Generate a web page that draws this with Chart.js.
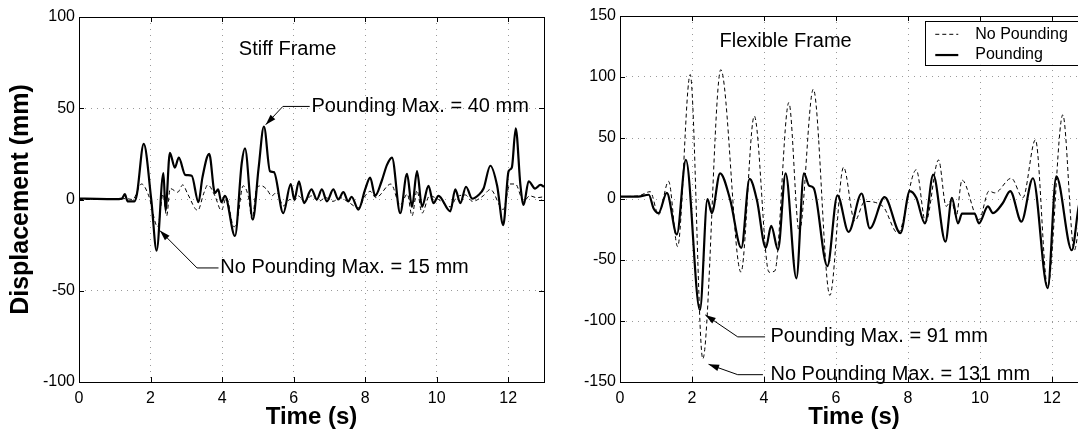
<!DOCTYPE html>
<html>
<head>
<meta charset="utf-8">
<script src="https://cdn.jsdelivr.net/npm/chart.js@4.4.0/dist/chart.umd.min.js"></script>
<style>
html, body { margin: 0; padding: 0; background: #fff; overflow: hidden; }
#wrap { position: relative; width: 1078px; height: 433px; overflow: hidden; }
#stiff { position: absolute; left: 0; top: 0; }
#flex { position: absolute; left: 550px; top: 0; }
</style>
</head>
<body>
<div id="wrap">
  <canvas id="stiff" width="550" height="433"></canvas>
  <canvas id="flex" width="542" height="433"></canvas>
</div>
<script>
// tick labels
const xTicks = [0, 2, 4, 6, 8, 10, 12];
const stiffYTicks = [-100, -50, 0, 50, 100];
const flexYTicks = [-150, -100, -50, 0, 50, 100, 150];

// Stiff frame, pounding (s, mm)
const stiffPoundT = [0, 0.5, 1.0, 1.2, 1.28, 1.36, 1.55, 1.62, 1.81, 2.02, 2.17, 2.36, 2.42, 2.54, 2.68, 2.79, 2.97, 3.15, 3.34, 3.45,
  3.64, 3.80, 3.89, 3.98, 4.08, 4.36, 4.55, 4.64, 4.86, 5.02, 5.17, 5.34, 5.45, 5.71, 5.92, 6.02, 6.15, 6.29, 6.50, 6.65,
  6.79, 6.93, 7.11, 7.25, 7.39, 7.53, 7.62, 7.81, 8.0, 8.14, 8.28, 8.46, 8.61, 8.75, 8.98, 9.17, 9.31, 9.45, 9.59, 9.77,
  9.91, 10.05, 10.38, 10.52, 10.66, 10.82, 10.99, 11.17, 11.31, 11.5, 11.69, 11.86, 12.01, 12.1, 12.21, 12.34, 12.43, 12.57, 12.75, 12.9, 13];
const stiffPoundV = [0.5, 0.3, 0.2, 0.5, 3, -1, -1, 3, 30.5, 0, -28, 14.5, -6, 25.5, 17.5, 23, 13.5, 13, -1.5, 12,
  25, 3.5, 5.5, -1.5, 2, -20, 20, 28, -11, 17, 40, 15.5, 15, -7.5, 8.5, 0, 10, -2, 5.5, 0,
  5.5, -1, 5.5, 0, 4, -1, 1.5, -5.5, 5.5, 12, 2, 10, 19, 23, -7.5, 14, -4, 15.5, -4, 7.5,
  -2, 2, -6.5, 5.5, -2, 7, 0.5, 2.5, 6, 18.5, 7.5, -14, 15.5, 17.5, 39, 8, -3, 10, 6, 8, 7];

// Stiff frame, no pounding
const stiffFreeT = [0, 1.0, 1.3, 1.5, 1.75, 1.95, 2.2, 2.35, 2.45, 2.55, 2.76, 2.9, 3.04, 3.32, 3.49, 3.6, 3.8, 3.98, 4.12, 4.33,
  4.42, 4.59, 4.73, 4.84, 4.97, 5.1, 5.25, 5.39, 5.53, 5.71, 5.9, 6.0, 6.13, 6.3, 6.5, 6.7, 6.9, 7.1, 7.3, 7.5,
  7.81, 8.0, 8.14, 8.3, 8.72, 8.98, 9.18, 9.31, 9.45, 9.59, 9.8, 10.05, 10.38, 10.55, 10.8, 11.0, 11.3, 11.5, 11.86, 12.05,
  12.2, 12.43, 12.6, 12.8, 13];
const stiffFreeV = [0, 0, 0.5, 0, 8.5, 2, -15, 3, -9, 6, 4, 8, 3, -6, 3.5, 8, 2, -6, 1, -15,
  -12, 7.5, 2, -11, 6.5, 7.5, 5.5, 2, 4, -3.5, 0, -1, 2, -1, 2, -1, 1, -1, 1, -1,
  -4.5, 2, 4.5, 1, 8.5, -3, 3, -9, 5, -7.5, 2, 0, -4, 1, 2.5, -1, 2, 5.5, -5.5, 8.5,
  8.5, -1, 2, 1, 1.5];

// Flexible frame, pounding
const flexPoundT = [0, 0.5, 0.8, 0.93, 1.07, 1.3, 1.58, 1.83, 2.22, 2.43, 2.55, 2.78, 3.06, 3.37, 3.6, 3.8, 4.05, 4.2, 4.39, 4.6,
  4.9, 5.11, 5.25, 5.38, 5.76, 6.04, 6.35, 6.71, 6.94, 7.35, 7.79, 8.05, 8.23, 8.47, 8.7, 9.04, 9.22, 9.39, 9.5, 9.85,
  9.97, 10.22, 10.36, 10.63, 10.84, 11.15, 11.47, 11.88, 12.12, 12.55, 12.75, 13];
const flexPoundV = [2, 2, 3.5, -7.5, -11.5, 5, -29, 32, -91, 0, -11.5, 21, -0.5, -40, 16.5, -0.5, -40, -22, -41.5, 21,
  -65, 21, 11, 9, -55, 3, -27, 4.5, -24, 1.5, -28, 6.5, 1, -20, 20, -35, 1, -20, -12, -12,
  -20, -6, -11.5, -3.5, 6.5, -18.5, 17, -73, 18.5, -42, -5, 10];

// Flexible frame, no pounding
const flexFreeT = [0, 0.5, 0.84, 1.07, 1.35, 1.6, 1.95, 2.3, 2.8, 3.36, 3.73, 4.14, 4.3, 4.69, 4.98, 5.37, 5.83, 6.21, 6.52, 6.8,
  7.3, 7.72, 8.23, 8.49, 8.85, 9.06, 9.2, 9.34, 9.5, 9.97, 10.25, 10.41, 10.87, 11.19, 11.54, 11.88, 12.3, 12.62, 12.8, 13];
const flexFreeV = [2, 2.5, 6, -13, 14.5, -39, 102, -131, 106, -60, 68, -60, -59, 79, -27, 90, -79, 26, -18, -2,
  -6, -28, 24, -19, 32, -6, -1, -14, 15.5, -17, 6.5, 5, 17, 1, 48.5, -72, 69, -42, -10, 10];

const FONT = '"Liberation Sans", Arial, Helvetica, sans-serif';
Chart.defaults.font.family = FONT;
Chart.defaults.color = '#000';

function pts(ts, vs) {
  return ts.map((t, i) => ({ x: t, y: vs[i] }));
}

// box, inward ticks, notes and legend drawn the matlab way
const matlabBox = {
  id: 'matlabBox',
  afterDraw(chart, args, opts) {
    const { ctx, chartArea: a, scales: { x, y } } = chart;
    ctx.save();
    ctx.strokeStyle = '#000';
    ctx.lineWidth = 1;
    ctx.setLineDash([]);
    ctx.strokeRect(Math.round(a.left) + 0.5, Math.round(a.top) + 0.5, Math.round(a.width), Math.round(a.height));
    ctx.beginPath();
    x.ticks.forEach(t => {
      const p = Math.round(x.getPixelForValue(t.value)) + 0.5;
      ctx.moveTo(p, a.bottom); ctx.lineTo(p, a.bottom - 5);
      ctx.moveTo(p, a.top); ctx.lineTo(p, a.top + 5);
    });
    y.ticks.forEach(t => {
      const p = Math.round(y.getPixelForValue(t.value)) + 0.5;
      ctx.moveTo(a.left, p); ctx.lineTo(a.left + 5, p);
      ctx.moveTo(a.right, p); ctx.lineTo(a.right - 5, p);
    });
    ctx.stroke();

    ctx.fillStyle = '#000';
    ctx.textBaseline = 'middle';
    (opts.notes || []).forEach(n => {
      ctx.font = (n.size || 20) + 'px ' + FONT;
      ctx.textAlign = n.align || 'left';
      ctx.fillText(n.text, x.getPixelForValue(n.at[0]), y.getPixelForValue(n.at[1]));
      if (!n.path) return;
      const p = n.path.map(q => [x.getPixelForValue(q[0]), y.getPixelForValue(q[1])]);
      ctx.beginPath();
      ctx.lineWidth = 1;
      ctx.moveTo(p[0][0], p[0][1]);
      p.slice(1).forEach(q => ctx.lineTo(q[0], q[1]));
      ctx.stroke();
      const e = p[p.length - 1], s = p[p.length - 2];
      const ang = Math.atan2(e[1] - s[1], e[0] - s[0]);
      ctx.beginPath();
      ctx.moveTo(e[0], e[1]);
      ctx.lineTo(e[0] - 11 * Math.cos(ang - 0.3), e[1] - 11 * Math.sin(ang - 0.3));
      ctx.lineTo(e[0] - 11 * Math.cos(ang + 0.3), e[1] - 11 * Math.sin(ang + 0.3));
      ctx.closePath();
      ctx.fill();
    });

    const lg = opts.legend;
    if (lg) {
      const left = x.getPixelForValue(lg.from);
      const top = y.getPixelForValue(lg.top);
      const bottom = y.getPixelForValue(lg.bottom);
      ctx.fillStyle = '#fff';
      ctx.fillRect(left, top, a.right - left, bottom - top);
      ctx.strokeStyle = '#000';
      ctx.lineWidth = 1;
      ctx.strokeRect(Math.round(left) + 0.5, Math.round(top) + 0.5, a.right - left, Math.round(bottom - top));
      ctx.font = '16px ' + FONT;
      ctx.textAlign = 'left';
      ctx.fillStyle = '#000';
      chart.data.datasets.forEach((ds, i) => {
        const yy = y.getPixelForValue(lg.rows[i]);
        ctx.beginPath();
        ctx.lineWidth = ds.borderWidth;
        ctx.setLineDash(ds.borderDash || []);
        ctx.moveTo(left + 10, yy);
        ctx.lineTo(left + 33, yy);
        ctx.stroke();
        ctx.setLineDash([]);
        ctx.fillText(ds.label, left + 50, yy);
      });
    }
    ctx.restore();
  }
};

function makeChart(id, freeT, freeV, poundT, poundV, yTicks, yMin, yMax, yAxisWidth, pad, yTitle, box) {
  return new Chart(document.getElementById(id), {
    type: 'line',
    data: {
      datasets: [
        {
          label: 'No Pounding',
          data: pts(freeT, freeV),
          borderColor: '#000',
          borderWidth: 1,
          borderDash: [4, 3],
          pointRadius: 0,
          cubicInterpolationMode: 'monotone',
          order: 0
        },
        {
          label: 'Pounding',
          data: pts(poundT, poundV),
          borderColor: '#000',
          borderWidth: 2.2,
          pointRadius: 0,
          cubicInterpolationMode: 'monotone',
          order: 1
        }
      ]
    },
    options: {
      responsive: false,
      animation: false,
      layout: { padding: pad },
      plugins: {
        legend: { display: false },
        tooltip: { enabled: false },
        matlabBox: box
      },
      scales: {
        x: {
          type: 'linear',
          min: 0,
          max: 13,
          afterBuildTicks: s => { s.ticks = xTicks.map(v => ({ value: v })); },
          afterFit: s => { s.height = 51; },
          ticks: { font: { size: 16 }, padding: 7, maxRotation: 0 },
          grid: { color: '#9a9a9a', lineWidth: 1, drawTicks: false },
          border: { display: false, dash: [1, 5] },
          title: { display: true, text: 'Time (s)', font: { size: 24, weight: 'bold' }, padding: { top: 0, bottom: 1 } }
        },
        y: {
          min: yMin,
          max: yMax,
          afterBuildTicks: s => { s.ticks = yTicks.map(v => ({ value: v })); },
          afterFit: s => { s.width = yAxisWidth; },
          ticks: { font: { size: 16 }, padding: 4 },
          grid: { color: '#9a9a9a', lineWidth: 1, drawTicks: false },
          border: { display: false, dash: [1, 5] },
          title: { display: !!yTitle, text: yTitle, font: { size: 25, weight: 'bold' }, padding: { top: 6, bottom: 0 } }
        }
      }
    },
    plugins: [matlabBox]
  });
}

makeChart('stiff', stiffFreeT, stiffFreeV, stiffPoundT, stiffPoundV, stiffYTicks, -100, 100, 79,
  { top: 17, right: 6, left: 0, bottom: 0 }, 'Displacement (mm)', {
    notes: [
      { text: 'Stiff Frame', at: [5.83, 82], align: 'center' },
      { text: 'Pounding Max. = 40 mm', at: [6.5, 51], path: [[6.45, 51], [5.7, 51], [5.22, 41]] },
      { text: 'No Pounding Max. = 15 mm', at: [3.95, -37.5], path: [[3.9, -37.5], [3.3, -37.5], [2.26, -17]] }
    ]
  });

makeChart('flex', flexFreeT, flexFreeV, flexPoundT, flexPoundV, flexYTicks, -150, 150, 70,
  { top: 16, right: 4, left: 0, bottom: 0 }, '', {
    notes: [
      { text: 'Flexible Frame', at: [4.6, 129], align: 'center' },
      { text: 'Pounding Max. = 91 mm', at: [4.18, -113], path: [[4.03, -113], [3.27, -113], [2.37, -95]] },
      { text: 'No Pounding Max. = 131 mm', at: [4.18, -144], path: [[3.97, -144], [3.27, -144], [2.46, -135.5]] }
    ],
    legend: { from: 8.48, top: 146, bottom: 110, rows: [135, 118] }
  });
</script>
</body>
</html>
